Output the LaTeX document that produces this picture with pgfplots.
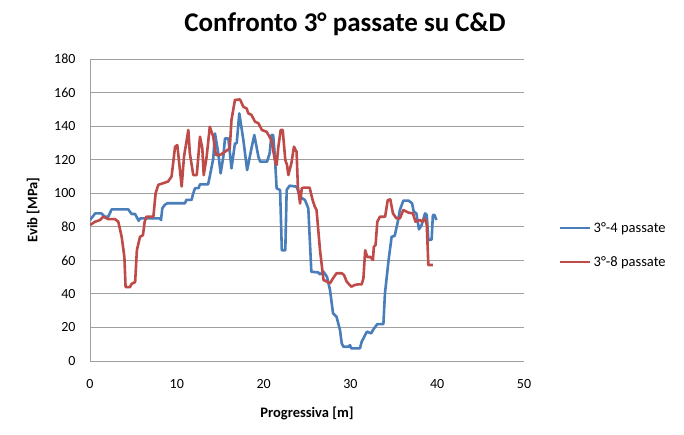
\documentclass[border=0pt]{standalone}
\usepackage{pgfplots}
\pgfplotsset{compat=1.18}
\usepackage{fontspec}
\setmainfont{Carlito}

\definecolor{serieA}{HTML}{4A7EBB}
\definecolor{serieB}{HTML}{BE4B48}
\definecolor{griglia}{HTML}{A0A0A0}

\begin{document}
\begin{tikzpicture}[x=1pt,y=1pt]
\path[use as bounding box] (0,0) rectangle (684,434);
\begin{axis}[
  at={(90pt,73pt)}, anchor=south west,
  scale only axis,
  width=434pt, height=302pt,
  xmin=0, xmax=50, ymin=0, ymax=180,
  xtick={0,10,20,30,40,50},
  ytick={0,20,40,60,80,100,120,140,160,180},
  major tick length=0pt,
  ymajorgrids,
  grid style={griglia, line width=0.8pt},
  axis x line*=bottom, axis y line*=left,
  axis line style={griglia, line width=0.8pt, -},
  /pgf/number format/assume math mode=true,
  tick label style={font=\fontsize{14}{17}\selectfont},
  yticklabel style={anchor=east, xshift=-11pt},
  xticklabel style={anchor=north, yshift=-15pt},
  title={\textbf{Confronto 3° passate su C\&D}},
  title style={font=\fontsize{27}{32}\selectfont, at={(axis description cs:0.5,1)}, anchor=center, xshift=38pt, yshift=29pt},
  xlabel={\textbf{Progressiva [m]}},
  xlabel style={font=\fontsize{14.5}{17}\selectfont, at={(axis description cs:0.5,0)}, anchor=center, yshift=-52pt},
  ylabel={\fontsize{14.5}{17}\selectfont\textbf{Evib [MPa]}},
  ylabel style={at={(axis description cs:-0.131,0.5)}, anchor=center},
  legend style={draw=none, fill=none, font=\fontsize{14.5}{17}\selectfont,
    at={(rel axis cs:1,0.384)}, anchor=west, xshift=32pt, row sep=19pt},
  legend cell align=left,
  legend image code/.code={\draw[#1, line width=2.5pt] (0pt,0pt) -- (30pt,0pt);},
]
\addplot[serieA, line width=2.6pt, line join=round] coordinates {
(0,84) (0.3,86) (0.6,88) (1.3,88) (1.7,86) (2.1,86) (2.5,90.4) (4.4,90.4)
(4.8,87.6) (5.2,87.6) (5.6,83.6) (5.8,85) (8.06,85) (8.18,84) (8.33,91)
(8.6,93) (8.9,94) (10.94,94) (11.1,96) (11.7,96) (11.9,100) (12.1,103)
(12.5,103) (12.67,105.3) (13.6,105.3) (13.8,110) (14.2,120.7) (14.4,135.6)
(14.78,123.7) (15.05,111.8) (15.36,121.8) (15.55,132.6) (15.94,132.6)
(16.3,114.8) (16.7,129.7) (16.9,129.7) (17.2,147.6) (17.67,131.7) (18.1,113.8)
(18.6,126.7) (18.93,134.7) (19.4,121.8) (19.6,118.8) (20.4,118.8) (20.7,123.8)
(20.9,134.7) (21.1,134.7) (21.3,121.8) (21.5,102.9) (21.9,101.9) (22.1,66)
(22.5,66) (22.66,102) (23.0,104.5) (23.8,103.9) (24.2,97.9) (24.77,95.9)
(25.15,91) (25.5,53.2) (26.3,52.8) (26.5,51.6) (26.9,53.2) (27.3,50.2)
(27.65,42.3) (28.0,28.4) (28.4,26.4) (28.8,18.5) (29.0,10.5) (29.2,8.5)
(29.8,8.5) (29.95,9.5) (30.1,7.5) (31.1,7.5) (31.3,11.5) (31.9,17.5)
(32.4,16.5) (32.6,18.5) (33.1,22) (33.8,22) (33.98,40.3) (34.4,60.2)
(34.75,74.1) (35.1,74.5) (35.5,84) (35.7,90) (36.1,95.6) (36.7,95.6)
(37.1,94) (37.3,89) (37.6,88) (37.9,78.5) (38.2,81) (38.6,88) (38.8,87)
(38.98,72) (39.36,72.4) (39.5,87) (39.7,87) (39.9,84)
};
\addlegendentry{3°-4 passate}
\addplot[serieB, line width=2.6pt, line join=round] coordinates {
(0,81) (0.58,83) (1.15,84) (1.53,86) (2.1,84.6) (2.88,84.6) (3.26,83)
(3.65,74) (3.96,62) (4.1,44) (4.6,44) (4.8,46) (5.2,47) (5.4,66) (5.76,74)
(6.1,75) (6.3,83) (6.5,86) (7.3,86) (7.56,100) (7.87,105) (8.45,106)
(9.0,107) (9.4,110) (9.8,127.7) (10.06,128.7) (10.56,104) (10.83,121.8)
(11.33,137.7) (11.5,123.8) (11.9,110.8) (12.3,110.8) (12.67,133.7)
(12.94,126.7) (13.1,110.8) (13.44,121.8) (13.8,139.6) (14.2,133.7)
(14.5,122.8) (14.98,122.8) (15.55,124.7) (16.1,126.7) (16.3,143.7)
(16.7,155.6) (17.28,155.9) (17.67,151.5) (18.05,150.5) (18.24,147.6)
(18.6,146.7) (19.0,142.7) (19.4,141.7) (19.8,137.7) (20.35,136.6)
(20.9,131.7) (21.3,119.8) (21.5,116.8) (21.7,127.7) (21.97,137.7)
(22.2,137.7) (22.5,119.8) (22.7,116.8) (22.85,110.8) (23.2,117.8)
(23.5,127.7) (23.8,124.7) (23.95,103.9) (24.2,93.9) (24.4,102.9)
(24.6,103.3) (25.3,103.3) (25.65,95.9) (25.9,92) (26.1,90) (26.5,66)
(26.9,48.3) (27.3,47.3) (27.65,46.3) (28.0,49.3) (28.4,52.3) (29.0,52.3)
(29.26,51.3) (29.57,47.3) (30.1,44.3) (30.5,45.3) (30.9,45.7) (31.3,45.7)
(31.5,49.3) (31.7,66) (31.95,62) (32.3,62) (32.6,60.2) (32.7,68.1)
(32.9,69.1) (33.1,83) (33.4,86) (34.0,86) (34.3,95.9) (34.6,96.3)
(34.9,88) (35.3,85) (35.7,85) (36.1,90) (36.7,88.4) (37.2,88) (37.5,83)
(38.0,84) (38.3,83) (38.6,85) (38.8,81) (38.98,57.2) (39.5,57.2)
};
\addlegendentry{3°-8 passate}
\end{axis}
\end{tikzpicture}
\end{document}
